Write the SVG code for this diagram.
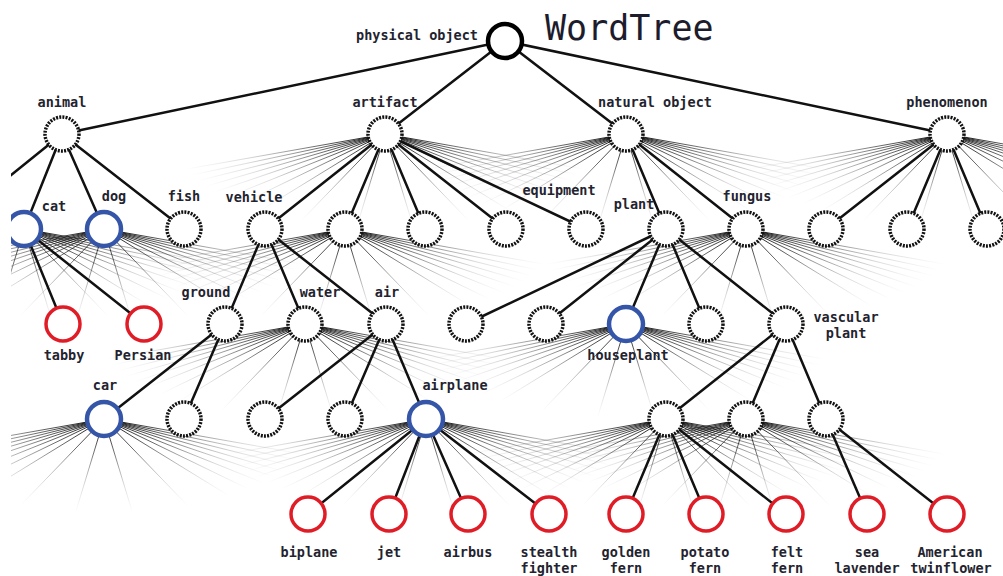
<svg xmlns="http://www.w3.org/2000/svg" xmlns:xlink="http://www.w3.org/1999/xlink" width="1003" height="576" viewBox="0 0 1003 576">
<style>
.lbl{font-family:"DejaVu Sans Mono","Liberation Mono",monospace;font-size:13.5px;font-weight:bold;fill:#23232f;text-anchor:middle}
.title{font-family:"DejaVu Sans Mono","Liberation Mono",monospace;font-size:35px;fill:#1c1c2c}
.edge{stroke:#111;stroke-width:2.5;fill:none;stroke-linecap:round}
.n{fill:#fff;stroke:#111;stroke-width:3.5;stroke-dasharray:2 1.2}
.root{fill:#fff;stroke:#000;stroke-width:4.5}
.blue{fill:#fff;stroke:#3556a8;stroke-width:4.5}
.red{fill:#fff;stroke:#e01c26;stroke-width:3.5}
.fl{stroke:url(#fg);stroke-width:1;fill:none}
</style>
<defs>
<radialGradient id="fg" gradientUnits="userSpaceOnUse" cx="0" cy="0" r="1" gradientTransform="scale(215 95)">
<stop offset="0" stop-color="#000" stop-opacity="1"/>
<stop offset="0.35" stop-color="#222" stop-opacity="0.65"/>
<stop offset="0.7" stop-color="#555" stop-opacity="0.22"/>
<stop offset="1" stop-color="#888" stop-opacity="0"/>
</radialGradient>
<g id="fan" class="fl">
<line x1="0" y1="0" x2="-215" y2="38"/><line x1="0" y1="0" x2="-212" y2="45"/><line x1="0" y1="0" x2="-208" y2="52"/><line x1="0" y1="0" x2="-202" y2="59"/><line x1="0" y1="0" x2="-194" y2="66"/><line x1="0" y1="0" x2="-182" y2="73"/><line x1="0" y1="0" x2="-165" y2="80"/><line x1="0" y1="0" x2="-140" y2="86"/>
<line x1="0" y1="0" x2="-85" y2="88"/><line x1="0" y1="0" x2="-28" y2="92"/><line x1="0" y1="0" x2="28" y2="92"/><line x1="0" y1="0" x2="85" y2="88"/>
<line x1="0" y1="0" x2="215" y2="38"/><line x1="0" y1="0" x2="212" y2="45"/><line x1="0" y1="0" x2="208" y2="52"/><line x1="0" y1="0" x2="202" y2="59"/><line x1="0" y1="0" x2="194" y2="66"/><line x1="0" y1="0" x2="182" y2="73"/><line x1="0" y1="0" x2="165" y2="80"/><line x1="0" y1="0" x2="140" y2="86"/>
</g>
<clipPath id="clip"><rect x="11" y="0" width="992" height="576"/></clipPath>
</defs>
<rect width="1003" height="576" fill="#fff"/>
<g clip-path="url(#clip)">
<g id="fans">
<use xlink:href="#fan" href="#fan" x="385" y="134"/>
<use xlink:href="#fan" href="#fan" x="626" y="134"/>
<use xlink:href="#fan" href="#fan" x="947" y="134"/>
<use xlink:href="#fan" href="#fan" x="24" y="229"/>
<use xlink:href="#fan" href="#fan" x="104" y="229"/>
<use xlink:href="#fan" href="#fan" x="345" y="229"/>
<use xlink:href="#fan" href="#fan" x="746" y="229"/>
<use xlink:href="#fan" href="#fan" x="305" y="324"/>
<use xlink:href="#fan" href="#fan" x="626" y="324"/>
<use xlink:href="#fan" href="#fan" x="104" y="419"/>
<use xlink:href="#fan" href="#fan" x="426" y="419"/>
<use xlink:href="#fan" href="#fan" x="666" y="419"/>
<use xlink:href="#fan" href="#fan" x="746" y="419"/>
</g>
<g id="connectors" class="edge">
<line x1="505" y1="41" x2="62" y2="134"/><line x1="505" y1="41" x2="385" y2="134"/><line x1="505" y1="41" x2="626" y2="134"/><line x1="505" y1="41" x2="947" y2="134"/>
<line x1="62" y1="134" x2="-56" y2="229"/><line x1="62" y1="134" x2="24" y2="229"/><line x1="62" y1="134" x2="104" y2="229"/><line x1="62" y1="134" x2="184" y2="229"/>
<line x1="385" y1="134" x2="265" y2="229"/><line x1="385" y1="134" x2="345" y2="229"/><line x1="385" y1="134" x2="425" y2="229"/><line x1="385" y1="134" x2="506" y2="229"/><line x1="385" y1="134" x2="586" y2="229"/>
<line x1="626" y1="134" x2="666" y2="229"/><line x1="626" y1="134" x2="746" y2="229"/>
<line x1="947" y1="134" x2="826" y2="229"/><line x1="947" y1="134" x2="907" y2="229"/><line x1="947" y1="134" x2="987" y2="229"/>
<line x1="24" y1="229" x2="63" y2="324"/><line x1="24" y1="229" x2="144" y2="324"/>
<line x1="265" y1="229" x2="225" y2="324"/><line x1="265" y1="229" x2="305" y2="324"/><line x1="265" y1="229" x2="386" y2="324"/>
<line x1="666" y1="229" x2="466" y2="324"/><line x1="666" y1="229" x2="546" y2="324"/><line x1="666" y1="229" x2="626" y2="324"/><line x1="666" y1="229" x2="706" y2="324"/><line x1="666" y1="229" x2="786" y2="324"/>
<line x1="225" y1="324" x2="104" y2="419"/><line x1="225" y1="324" x2="184" y2="419"/>
<line x1="386" y1="324" x2="265" y2="419"/><line x1="386" y1="324" x2="345" y2="419"/><line x1="386" y1="324" x2="426" y2="419"/>
<line x1="786" y1="324" x2="666" y2="419"/><line x1="786" y1="324" x2="746" y2="419"/><line x1="786" y1="324" x2="826" y2="419"/>
<line x1="426" y1="419" x2="308" y2="514"/><line x1="426" y1="419" x2="389" y2="514"/><line x1="426" y1="419" x2="468" y2="514"/><line x1="426" y1="419" x2="549" y2="514"/>
<line x1="666" y1="419" x2="626" y2="514"/><line x1="666" y1="419" x2="706" y2="514"/><line x1="666" y1="419" x2="786" y2="514"/>
<line x1="826" y1="419" x2="867" y2="514"/><line x1="826" y1="419" x2="947" y2="514"/>
</g>
<text class="title" x="545" y="40">WordTree</text>
<g id="n-physical-object"><circle class="root" cx="505" cy="41" r="17"/><text class="lbl" x="417" y="40">physical object</text></g>
<g id="n-animal"><circle class="n" cx="62" cy="134" r="17"/><text class="lbl" x="62" y="107">animal</text></g>
<g id="n-artifact"><circle class="n" cx="385" cy="134" r="17"/><text class="lbl" x="385" y="107">artifact</text></g>
<g id="n-natural-object"><circle class="n" cx="626" cy="134" r="17"/><text class="lbl" x="655" y="107">natural object</text></g>
<g id="n-phenomenon"><circle class="n" cx="947" cy="134" r="17"/><text class="lbl" x="947" y="107">phenomenon</text></g>
<g id="n-cat"><circle class="blue" cx="24" cy="229" r="17"/><text class="lbl" x="54" y="211">cat</text></g>
<g id="n-dog"><circle class="blue" cx="104" cy="229" r="17"/><text class="lbl" x="114" y="201">dog</text></g>
<g id="n-fish"><circle class="n" cx="184" cy="229" r="17"/><text class="lbl" x="184" y="201">fish</text></g>
<g id="n-vehicle"><circle class="n" cx="265" cy="229" r="17"/><text class="lbl" x="254" y="202">vehicle</text></g>
<g id="n-artifact-2"><circle class="n" cx="345" cy="229" r="17"/></g>
<g id="n-artifact-3"><circle class="n" cx="425" cy="229" r="17"/></g>
<g id="n-artifact-4"><circle class="n" cx="506" cy="229" r="17"/></g>
<g id="n-equipment"><circle class="n" cx="586" cy="229" r="17"/><text class="lbl" x="559" y="195">equipment</text></g>
<g id="n-plant"><circle class="n" cx="666" cy="229" r="17"/><text class="lbl" x="634" y="209">plant</text></g>
<g id="n-fungus"><circle class="n" cx="746" cy="229" r="17"/><text class="lbl" x="747" y="201">fungus</text></g>
<g id="n-phenomenon-1"><circle class="n" cx="826" cy="229" r="17"/></g>
<g id="n-phenomenon-2"><circle class="n" cx="907" cy="229" r="17"/></g>
<g id="n-phenomenon-3"><circle class="n" cx="987" cy="229" r="17"/></g>
<g id="n-tabby"><circle class="red" cx="63" cy="324" r="17"/><text class="lbl" x="64" y="360">tabby</text></g>
<g id="n-persian"><circle class="red" cx="144" cy="324" r="17"/><text class="lbl" x="143" y="360">Persian</text></g>
<g id="n-ground"><circle class="n" cx="225" cy="324" r="17"/><text class="lbl" x="206" y="297">ground</text></g>
<g id="n-water"><circle class="n" cx="305" cy="324" r="17"/><text class="lbl" x="320" y="297">water</text></g>
<g id="n-air"><circle class="n" cx="386" cy="324" r="17"/><text class="lbl" x="387" y="297">air</text></g>
<g id="n-plant-1"><circle class="n" cx="466" cy="324" r="17"/></g>
<g id="n-plant-2"><circle class="n" cx="546" cy="324" r="17"/></g>
<g id="n-houseplant"><circle class="blue" cx="626" cy="324" r="17"/><text class="lbl" x="628" y="360">houseplant</text></g>
<g id="n-plant-4"><circle class="n" cx="706" cy="324" r="17"/></g>
<g id="n-vascular-plant"><circle class="n" cx="786" cy="324" r="17"/><text class="lbl" x="846" y="322">vascular</text><text class="lbl" x="846" y="338">plant</text></g>
<g id="n-car"><circle class="blue" cx="104" cy="419" r="17"/><text class="lbl" x="105" y="390">car</text></g>
<g id="n-ground-2"><circle class="n" cx="184" cy="419" r="17"/></g>
<g id="n-air-1"><circle class="n" cx="265" cy="419" r="17"/></g>
<g id="n-air-2"><circle class="n" cx="345" cy="419" r="17"/></g>
<g id="n-airplane"><circle class="blue" cx="426" cy="419" r="17"/><text class="lbl" x="455" y="390">airplane</text></g>
<g id="n-vascular-1"><circle class="n" cx="666" cy="419" r="17"/></g>
<g id="n-vascular-2"><circle class="n" cx="746" cy="419" r="17"/></g>
<g id="n-vascular-3"><circle class="n" cx="826" cy="419" r="17"/></g>
<g id="n-biplane"><circle class="red" cx="308" cy="514" r="17"/><text class="lbl" x="309" y="557">biplane</text></g>
<g id="n-jet"><circle class="red" cx="389" cy="514" r="17"/><text class="lbl" x="389" y="557">jet</text></g>
<g id="n-airbus"><circle class="red" cx="468" cy="514" r="17"/><text class="lbl" x="468" y="557">airbus</text></g>
<g id="n-stealth-fighter"><circle class="red" cx="549" cy="514" r="17"/><text class="lbl" x="549" y="557">stealth</text><text class="lbl" x="549" y="573">fighter</text></g>
<g id="n-golden-fern"><circle class="red" cx="626" cy="514" r="17"/><text class="lbl" x="626" y="557">golden</text><text class="lbl" x="626" y="573">fern</text></g>
<g id="n-potato-fern"><circle class="red" cx="706" cy="514" r="17"/><text class="lbl" x="705" y="557">potato</text><text class="lbl" x="705" y="573">fern</text></g>
<g id="n-felt-fern"><circle class="red" cx="786" cy="514" r="17"/><text class="lbl" x="787" y="557">felt</text><text class="lbl" x="787" y="573">fern</text></g>
<g id="n-sea-lavender"><circle class="red" cx="867" cy="514" r="17"/><text class="lbl" x="867" y="557">sea</text><text class="lbl" x="867" y="573">lavender</text></g>
<g id="n-american-twinflower"><circle class="red" cx="947" cy="514" r="17"/><text class="lbl" x="950" y="557">American</text><text class="lbl" x="951" y="573">twinflower</text></g>
</g>
</svg>
